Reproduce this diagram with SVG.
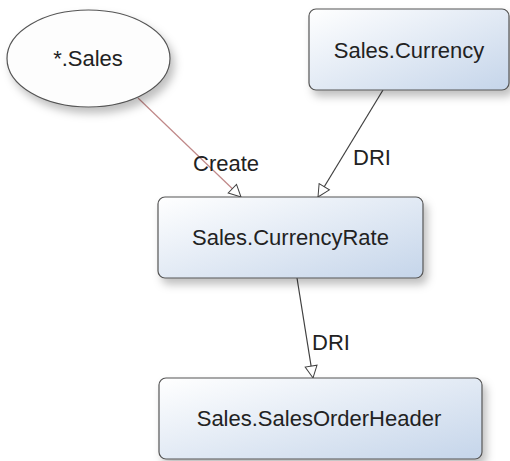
<svg xmlns="http://www.w3.org/2000/svg" width="510" height="461" viewBox="0 0 510 461">
<defs>
<linearGradient id="boxfill" x1="0" y1="0" x2="1" y2="1">
<stop offset="0" stop-color="#ffffff"/>
<stop offset="1" stop-color="#c5d5ea"/>
</linearGradient>
<filter id="shadow" x="-20%" y="-20%" width="150%" height="160%">
<feDropShadow dx="4" dy="6" stdDeviation="4" flood-color="#000" flood-opacity="0.25"/>
</filter>
<marker id="arrow" viewBox="0 0 14 14" refX="13" refY="7" markerWidth="14" markerHeight="14" markerUnits="userSpaceOnUse" orient="auto">
<path d="M1,1 L13,7 L1,13 Z" fill="#fff" stroke="#404040" stroke-width="1"/>
</marker>
</defs>
<style>
.node rect{fill:url(#boxfill);stroke:#555;stroke-width:1.2;filter:url(#shadow)}
.node ellipse{fill:#fdfdfd;stroke:#555;stroke-width:1.2;filter:url(#shadow)}
text{font-family:"Liberation Sans",Arial,sans-serif;font-size:22px;fill:#222}
.node text{text-anchor:middle}
.edge{fill:none;stroke:#404040;stroke-width:1.2;marker-end:url(#arrow)}
.create{stroke:#c08888}
</style>
<rect width="510" height="461" fill="#fff"/>
<g id="connectors">
<line class="edge create" x1="138" y1="98" x2="241" y2="197"/>
<line class="edge" x1="383" y1="90" x2="318" y2="197"/>
<line class="edge" x1="297" y1="278" x2="313" y2="378"/>
<text x="193" y="171">Create</text>
<text x="353" y="165">DRI</text>
<text x="312" y="350">DRI</text>
</g>
<g id="node-sales" class="node">
<ellipse cx="88.5" cy="58.5" rx="81.5" ry="48.5"/>
<text x="88" y="66">*.Sales</text>
</g>
<g id="node-currency" class="node">
<rect x="309" y="9" width="200" height="81" rx="7"/>
<text x="409" y="58">Sales.Currency</text>
</g>
<g id="node-currencyrate" class="node">
<rect x="158" y="197" width="265" height="81" rx="7"/>
<text x="290.5" y="245">Sales.CurrencyRate</text>
</g>
<g id="node-salesorderheader" class="node">
<rect x="159" y="378" width="323" height="81" rx="7"/>
<text x="319" y="426">Sales.SalesOrderHeader</text>
</g>
</svg>
